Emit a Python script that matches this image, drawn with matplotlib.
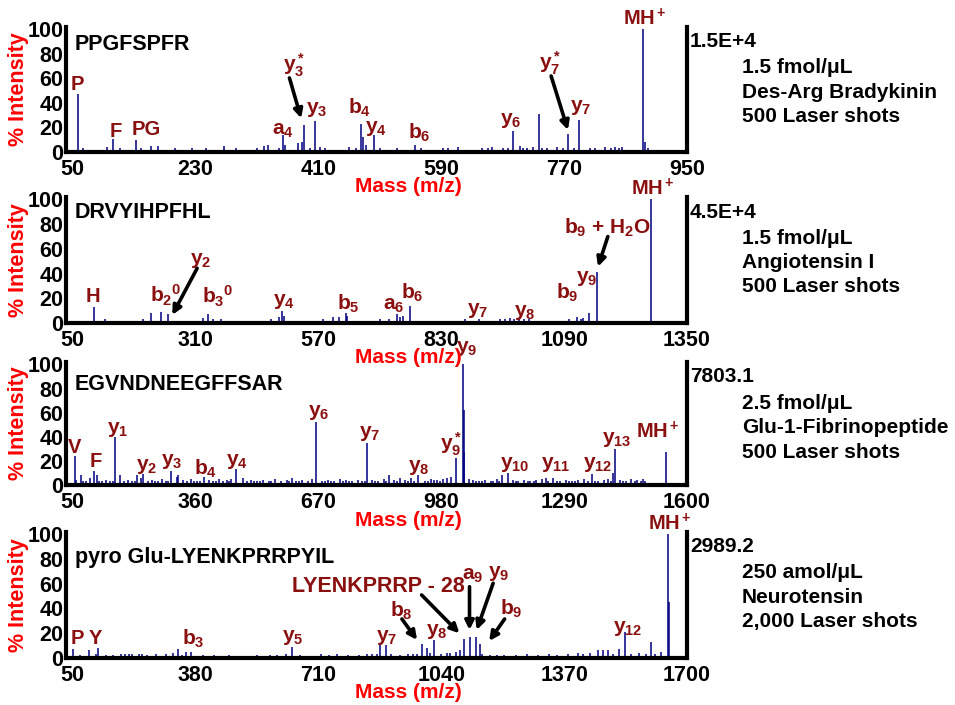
import matplotlib
matplotlib.use("Agg")
import matplotlib.pyplot as plt

plt.rcParams['font.family'] = ['Liberation Sans', 'DejaVu Sans']
plt.rcParams['font.weight'] = 'bold'
plt.rcParams['mathtext.fontset'] = 'custom'
plt.rcParams['mathtext.rm'] = 'Liberation Sans:bold'
plt.rcParams['mathtext.it'] = 'Liberation Sans:bold'
plt.rcParams['mathtext.bf'] = 'Liberation Sans:bold'
plt.rcParams['mathtext.sf'] = 'Liberation Sans:bold'

# ---------------- data ----------------
# Panel 1: Des-Arg Bradykinin
p1_mz = [58.9, 108.8, 143.4, 357.7, 388.9, 405.7, 472.5, 475.5, 492.1, 551.8, 695.9, 733.8, 775.6, 791.9, 886.2, 888.5,
         65, 75, 90, 100, 120, 130, 165, 175, 190, 200, 215, 245, 260, 272, 290, 300, 320, 330, 336, 345, 362,
         380, 386, 420, 440, 455, 465, 480, 510, 525, 540, 560, 575, 600, 615, 630, 650, 665, 680, 705, 715,
         725, 745, 760, 785, 800, 815, 830, 845, 855, 893,
         82, 112, 150, 158, 182, 208, 225, 236, 252, 280, 310, 352, 370, 398, 412, 430, 448, 500, 518, 532,
         548, 568, 585, 592, 608, 622, 640, 658, 672, 688, 700, 710, 720, 738, 752, 768, 780, 808, 822, 838, 850]
p1_int = [47, 10.6, 10, 14, 22, 25, 23, 12, 14, 6, 17, 31, 15, 26, 100, 8,
          3, 2, 2, 4, 3, 2, 5, 5, 2, 3, 2, 3, 2, 5, 3, 2, 3, 5, 6, 2, 6,
          7, 8, 3, 2, 4, 3, 6, 2, 3, 2, 3, 2, 3, 4, 2, 3, 4, 3, 5, 3,
          4, 3, 4, 3, 2, 3, 4, 4, 4, 3,
          2, 2, 3, 2, 2, 2, 3, 2, 2, 2, 2, 3, 2, 3, 4, 2, 2, 3, 2, 2,
          2, 2, 2, 3, 2, 2, 2, 3, 2, 3, 2, 3, 2, 3, 2, 3, 2, 3, 2, 3, 3]

# Panel 2: Angiotensin I
p2_mz = [53, 94.8, 119.8, 217, 237.8, 253, 325.8, 336, 346.6, 365, 487.5, 494.4, 498.5, 601, 613.6, 629, 631.8,
         737.3, 743.5, 749, 764.3, 1116.7, 1143, 1160, 1232.6, 1274.2,
         60, 140, 180, 200, 270, 290, 380, 420, 470, 520, 560, 580, 650, 680, 700, 720, 790, 810,
         835, 850, 865, 880, 895, 910, 925, 940, 955, 965, 975, 985, 995, 1005, 1015, 1025, 1040, 1055,
         1090, 1100, 1125, 1130, 1150, 1175, 1200, 1215, 1250]
p2_int = [2, 13.2, 3, 8, 9, 7, 4, 7, 3, 3, 5, 9.5, 6, 5, 5, 8, 6,
          7, 5, 6, 13.5, 5, 8, 41, 2, 100,
          1, 1, 2, 3, 2, 2, 2, 2, 3, 2, 2, 3, 2, 2, 3, 3, 2, 2,
          2, 2, 2, 3, 2, 3, 2, 2, 3, 3, 4, 3, 4, 3, 3, 2, 2, 2,
          2, 3, 3, 4, 2, 2, 2, 2, 1]

# Panel 3: Glu-1-Fibrinopeptide
p3_mz = [55.5, 71.1, 95.2, 104.1, 112.6, 157.2, 169.7, 213.3, 221.8, 228.2, 298.7, 312.6, 316.8, 383.1,
         461.5, 479.9, 664.2, 792.6, 847.9, 875.2, 905, 922.4, 1017.4, 1034, 1036.5, 1038.2, 1134, 1148.2,
         1243.2, 1261.6, 1360.9, 1414.5, 1418, 1547.7,
         60, 85, 125, 135, 145, 180, 190, 200, 240, 250, 265, 275, 285, 330, 340, 350, 365, 395, 405, 420,
         430, 440, 450, 490, 500, 515, 530, 545, 560, 575, 590, 605, 615, 630, 645, 655, 680, 695, 710, 725,
         740, 755, 770, 780, 805, 820, 835, 860, 890, 940, 955, 970, 985, 995, 1005, 1050, 1060, 1075, 1090,
         1105, 1120, 1160, 1175, 1190, 1205, 1220, 1235, 1280, 1295, 1310, 1325, 1340, 1375, 1390, 1400,
         1430, 1445, 1460, 1475, 1490,
         77, 118, 152, 162, 207, 258, 292, 322, 357, 372, 412, 445, 468, 507, 522, 552, 568, 597, 622, 638,
         688, 702, 718, 733, 748, 762, 787, 812, 828, 842, 868, 882, 897, 912, 930, 948, 963, 978, 1068,
         1083, 1098, 1112, 1127, 1168, 1183, 1198, 1213, 1228, 1250, 1272, 1288, 1303, 1318, 1333, 1350,
         1368, 1383, 1408, 1438, 1452, 1468, 1483, 1495]
p3_int = [24, 8, 6, 12, 8, 40, 8, 8, 6, 9, 12, 7, 8, 7,
          13, 6, 52, 35, 8, 6, 6, 8, 22, 100, 62, 27, 8, 10,
          6, 6, 9, 10, 30, 27,
          4, 3, 3, 4, 3, 3, 4, 3, 3, 4, 3, 5, 3, 4, 3, 5, 3, 4, 3, 5,
          3, 4, 5, 3, 4, 3, 4, 3, 5, 3, 4, 6, 3, 4, 3, 5, 3, 4, 3, 5,
          4, 3, 4, 3, 4, 3, 5, 4, 4, 3, 5, 4, 5, 6, 7, 5, 4, 3, 4,
          3, 5, 4, 3, 4, 3, 4, 5, 3, 4, 3, 4, 5, 3, 4, 5,
          4, 3, 5, 4, 5,
          3, 3, 3, 2, 3, 3, 3, 2, 3, 3, 3, 3, 2, 3, 3, 3, 2, 3, 3, 2,
          3, 3, 2, 3, 3, 2, 3, 3, 2, 3, 3, 2, 3, 3, 2, 3, 4, 3, 3,
          3, 2, 3, 3, 3, 2, 3, 3, 2, 3, 3, 2, 3, 3, 2, 3,
          3, 2, 3, 3, 2, 3, 3, 3]

# Panel 4: Neurotensin
p4_mz = [52.1, 94.4, 112.9, 119.2, 180, 202, 228.3, 236.3, 275.1, 332.2, 356, 369.1, 545.4, 624.7, 639.7,
         717.2, 867, 875.7, 890.7, 988.5, 1001.7, 1021, 1079.9, 1102.1, 1116.1, 1133.8, 1144.4, 1406.7,
         1461.4, 1474.6, 1487.8, 1517.7, 1534.3, 1604.1, 1631.3, 1648, 1651.7,
         70, 140, 160, 190, 210, 250, 300, 320, 345, 400, 430, 470, 500, 580, 600, 660, 680, 740, 760, 790,
         820, 840, 855, 905, 930, 950, 965, 975, 1010, 1040, 1055, 1065, 1090, 1150, 1170, 1190, 1210, 1240,
         1270, 1300, 1330, 1350, 1380, 1420, 1440, 1500, 1550, 1570, 1590, 1615]
p4_int = [7, 6, 3, 8, 3, 3, 3, 3, 3, 7, 5, 5, 2, 3, 9,
          3, 3, 10, 10, 11, 8, 14, 5, 15, 17, 17, 11, 4,
          6, 6, 6, 7, 21, 13, 5, 100, 45,
          2, 2, 2, 3, 3, 2, 3, 4, 2, 2, 2, 2, 1, 2, 2, 2, 1, 2, 3, 2,
          2, 3, 3, 3, 2, 3, 3, 3, 4, 3, 4, 4, 6, 3, 2, 2, 2, 2,
          3, 2, 3, 2, 3, 3, 4, 3, 3, 4, 3, 3]

xticks = [[50, 230, 410, 590, 770, 950],
          [50, 310, 570, 830, 1090, 1350],
          [50, 360, 670, 980, 1290, 1600],
          [50, 380, 710, 1040, 1370, 1700]]
xlims = [(40.6, 935.6), (36.5, 1329), (33.9, 1575), (32.8, 1673.6)]

peptides = ['PPGFSPFR', 'DRVYIHPFHL', 'EGVNDNEEGFFSAR', 'pyro Glu-LYENKPRRPYIL']
max_counts = ['1.5E+4', '4.5E+4', '7803.1', '2989.2']
info = [['1.5 fmol/\u03bcL', 'Des-Arg Bradykinin', '500 Laser shots'],
        ['1.5 fmol/\u03bcL', 'Angiotensin I', '500 Laser shots'],
        ['2.5 fmol/\u03bcL', 'Glu-1-Fibrinopeptide', '500 Laser shots'],
        ['250 amol/\u03bcL', 'Neurotensin', '2,000 Laser shots']]

# ion labels: (text, m/z, intensity-baseline, fontsize)
labels = [
    [('P', 57.9, 50.5, 14.5), ('F', 114, 12.5, 14.5), ('PG', 158.8, 13.8, 14.5), ('a$_4$', 359, 13.8, 15),
     ('y$_3^*$', 375, 66, 15), ('y$_3$', 408, 31.8, 15), ('b$_4$', 470, 31.5, 15), ('y$_4$', 494, 16.5, 15),
     ('b$_6$', 558, 11, 15), ('y$_6$', 692.5, 22.8, 15), ('y$_7^*$', 749, 67.3, 15), ('y$_7$', 794.4, 33.6, 15),
     ('MH$^+$', 889, 103.4, 14.5)],
    [('H', 92.7, 17.3, 14.5), ('b$_2{}^0$', 246.7, 16.4, 15), ('y$_2$', 320.6, 47.8, 15), ('b$_3{}^0$', 357.7, 16, 15),
     ('y$_4$', 497.5, 14.6, 15), ('b$_5$', 633.8, 10.5, 15), ('a$_6$', 730, 11, 15), ('b$_6$', 769, 20, 15),
     ('y$_7$', 906.5, 7.3, 15), ('y$_8$', 1006.5, 6, 15), ('b$_9$', 1097, 19.4, 15), ('y$_9$', 1137, 33, 15),
     ('b$_9$ + H$_2$O', 1182.6, 72.6, 15), ('MH$^+$', 1277, 103.6, 14.5)],
    [('V', 54.2, 26.3, 14.5), ('F', 110, 15.2, 14.5), ('y$_1$', 165.4, 42.9, 15), ('y$_2$', 236.2, 12.4, 15),
     ('y$_3$', 300.2, 16.6, 15), ('b$_4$', 387, 8.3, 15), ('y$_4$', 466.2, 16.6, 15), ('y$_6$', 671.7, 57.2, 15),
     ('y$_7$', 799.5, 40, 15), ('y$_8$', 922.4, 11.9, 15), ('y$_9^*$', 1005.5, 29, 15), ('y$_9$', 1044, 110.5, 15),
     ('y$_{10}$', 1164.8, 13.8, 15), ('y$_{11}$', 1269.3, 13.8, 15), ('y$_{12}$', 1374, 13.8, 15),
     ('y$_{13}$', 1423, 35, 15), ('MH$^+$', 1526.6, 38.7, 14.5)],
    [('P', 62.4, 10.9, 14.5), ('Y', 112.6, 10.9, 14.5), ('b$_3$', 375, 10.9, 15), ('y$_5$', 642.3, 13.6, 15),
     ('y$_7$', 894.7, 13.6, 15), ('b$_8$', 933, 33.3, 15), ('y$_8$', 1027.6, 18.4, 15),
     ('LYENKPRRP - 28', 871.2, 53.6, 15.5), ('a$_9$', 1124, 63, 15), ('y$_9$', 1194.8, 65.7, 15),
     ('b$_9$', 1227.9, 34.7, 15), ('y$_{12}$', 1541.5, 21.1, 15), ('MH$^+$', 1655, 103.7, 14.5)],
]

# arrows: (start m/z, start int, tip m/z, tip int)
arrows = [
    [(367.8, 60.3, 385, 27.4), (751, 61.9, 775.6, 17.9)],
    [(313.9, 44.3, 261.3, 6.5), (1182.6, 70, 1161.8, 45.6)],
    [],
    [(934.6, 31.4, 975.3, 14.4), (987.5, 50.9, 1088.9, 19.8), (1116.1, 57.6, 1116.1, 22.5),
     (1179.5, 60.4, 1135.4, 22.5), (1210.4, 31.4, 1168.9, 13.6)],
]

spectra = [(p1_mz, p1_int), (p2_mz, p2_int), (p3_mz, p3_int), (p4_mz, p4_int)]

# ---------------- layout ----------------
W, H = 955, 705
fig = plt.figure(figsize=(W / 100, H / 100), dpi=100)

panel_px = [(26.7, 152), (197, 323), (362, 485), (532, 657.7)]  # top, bottom in px
name_y = [44, 213, 384, 557]
LEFT, RIGHT = 66, 687
LABEL_COLOR = '#8a1010'
NAVY = '#000080'


def ftext(x, y, s, **kw):
    fig.text(x / W, 1 - y / H, s, **kw)


for i in range(4):
    top, bot = panel_px[i]
    ax = fig.add_axes([LEFT / W, (H - bot) / H, (RIGHT - LEFT) / W, (bot - top) / H])
    mz, inten = spectra[i]
    ax.vlines(mz, 0, inten, color=NAVY, lw=1.1)
    ax.set_xlim(*xlims[i])
    ax.set_ylim(0, 102)
    ax.set_xticks(xticks[i])
    ax.set_xticklabels([str(t) for t in xticks[i]])
    ax.set_yticks([0, 20, 40, 60, 80, 100])
    ax.tick_params(axis='both', length=0, labelsize=15.5)
    ax.tick_params(axis='x', pad=5)
    ax.tick_params(axis='y', pad=2)
    for lab in ax.get_xticklabels() + ax.get_yticklabels():
        lab.set_fontweight('bold')
    ax.spines['top'].set_visible(False)
    for s in ['left', 'bottom', 'right']:
        ax.spines[s].set_linewidth(3)
        ax.spines[s].set_color('black')
    ax.patch.set_alpha(0)

    for (txt, x, y, fs) in labels[i]:
        ax.text(x, y, txt, color=LABEL_COLOR, fontsize=fs, fontweight='bold',
                ha='center', va='baseline', clip_on=False)
    for (x0, y0, x1, y1) in arrows[i]:
        ax.annotate('', xy=(x1, y1), xytext=(x0, y0), annotation_clip=False,
                    arrowprops=dict(arrowstyle='-|>', lw=2.6, color='black', mutation_scale=13,
                                    shrinkA=0, shrinkB=0))

    # peptide name
    ftext(75, name_y[i], peptides[i], fontsize=15.5, fontweight='bold', color='black',
          ha='left', va='center')
    # % Intensity
    ftext(19, (top + bot) / 2, '% Intensity', fontsize=15.5, fontweight='bold', color='red',
          rotation=90, ha='center', va='center')
    # Mass label
    ftext(408, bot + 35, 'Mass (m/z)', fontsize=15, fontweight='bold', color='red',
          ha='center', va='center')
    # max count
    ftext(690, top + 15, max_counts[i], fontsize=15, fontweight='bold', color='black',
          ha='left', va='center')
    for k, line in enumerate(info[i]):
        ftext(742, top + 41 + 24.5 * k, line, fontsize=15, fontweight='bold', color='black',
              ha='left', va='center')

fig.savefig('out.png', dpi=100)
